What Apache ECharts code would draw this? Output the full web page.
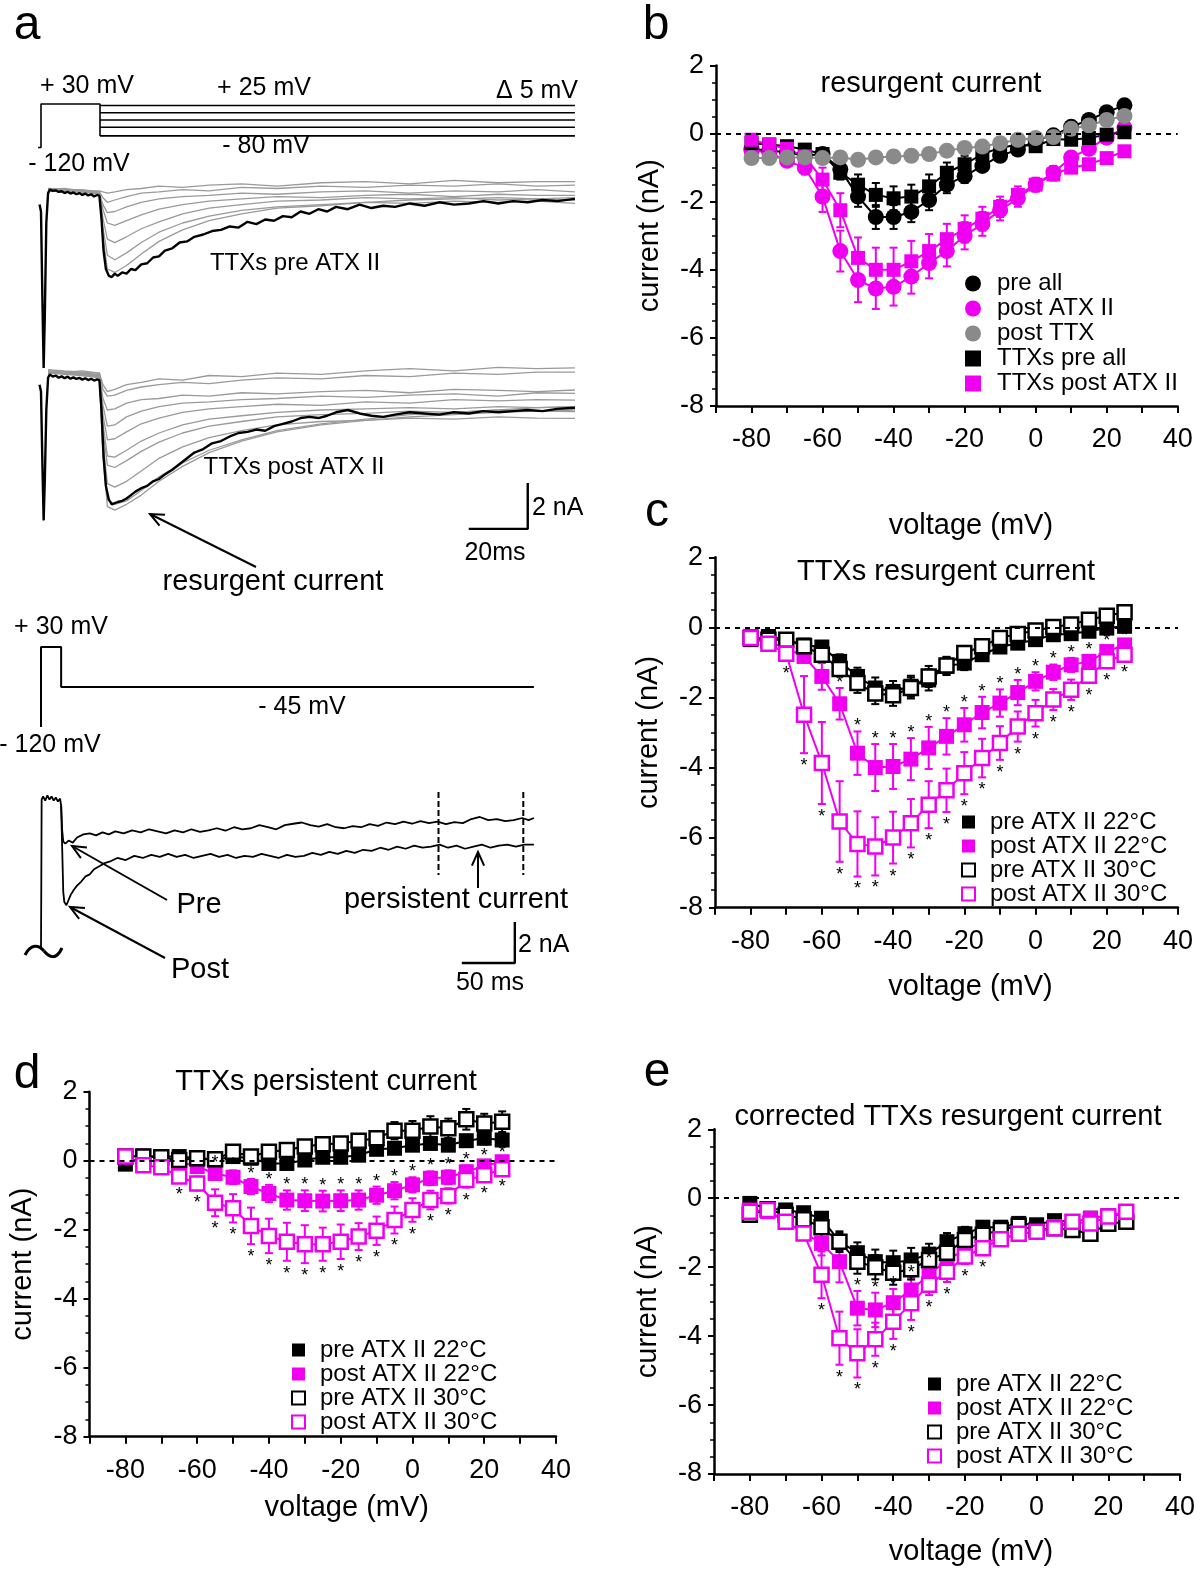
<!DOCTYPE html>
<html>
<head>
<meta charset="utf-8">
<title>TTXs resurgent and persistent current</title>
<script src="https://cdn.jsdelivr.net/npm/echarts@6.0.0/dist/echarts.min.js"></script>
<style>
html, body { margin: 0; padding: 0; background: #fff; }
#fig { width: 1200px; height: 1571px; }
</style>
</head>
<body>
<div id="fig"></div>
<script>
// ---- data ----
// test potentials of the I-V curves (mV)
var voltages = [-80, -75, -70, -65, -60, -55, -50, -45, -40, -35, -30, -25, -20, -15, -10, -5, 0, 5, 10, 15, 20, 25];
var xTickLabels = [-80, -60, -40, -20, 0, 20, 40];

// b: resurgent current (nA), mean and error
var bPreAll      = [-0.45, -0.5, -0.55, -0.65, -0.6, -1.05, -1.85, -2.45, -2.45, -2.3, -1.95, -1.5, -1.25, -0.95, -0.65, -0.47, -0.2, -0.05, 0.2, 0.4, 0.63, 0.83];
var bPreAllErr   = [0.1, 0.1, 0.1, 0.1, 0.1, 0.2, 0.3, 0.35, 0.35, 0.3, 0.3, 0.25, 0.2, 0.15, 0.12, 0.1, 0.1, 0.1, 0.1, 0.12, 0.12, 0.12];
var bPostAtx     = [-0.5, -0.55, -0.8, -1.0, -1.85, -3.45, -4.3, -4.55, -4.5, -4.2, -3.8, -3.45, -3.0, -2.65, -2.25, -1.9, -1.5, -1.15, -0.7, -0.45, -0.12, 0.17];
var bPostAtxErr  = [0.1, 0.1, 0.15, 0.2, 0.45, 0.6, 0.65, 0.6, 0.55, 0.5, 0.45, 0.45, 0.4, 0.35, 0.3, 0.25, 0.2, 0.2, 0.15, 0.15, 0.12, 0.1];
var bPostTtx     = [-0.72, -0.72, -0.7, -0.7, -0.72, -0.7, -0.77, -0.7, -0.67, -0.65, -0.6, -0.5, -0.42, -0.38, -0.28, -0.18, -0.13, -0.1, 0.14, 0.24, 0.4, 0.52];
var bTtxPre      = [-0.28, -0.32, -0.37, -0.47, -0.6, -1.15, -1.5, -1.8, -1.9, -1.85, -1.55, -1.15, -0.9, -0.6, -0.42, -0.32, -0.37, -0.16, -0.18, -0.13, -0.03, 0.04];
var bTtxPreErr   = [0.08, 0.08, 0.08, 0.1, 0.1, 0.2, 0.3, 0.35, 0.35, 0.35, 0.35, 0.3, 0.25, 0.2, 0.15, 0.12, 0.1, 0.1, 0.1, 0.1, 0.1, 0.1];
var bTtxPost     = [-0.18, -0.32, -0.45, -0.67, -1.35, -2.25, -3.65, -4.0, -4.0, -3.75, -3.45, -3.1, -2.8, -2.5, -2.15, -1.8, -1.5, -1.2, -1.0, -0.9, -0.72, -0.52];
var bTtxPostErr  = [0.1, 0.1, 0.12, 0.15, 0.35, 0.5, 0.6, 0.65, 0.65, 0.6, 0.5, 0.45, 0.4, 0.35, 0.3, 0.25, 0.2, 0.18, 0.15, 0.12, 0.1, 0.1];

// c: TTXs resurgent current
var cPre22     = [-0.35, -0.26, -0.35, -0.5, -0.56, -0.97, -1.4, -1.73, -1.83, -1.68, -1.5, -1.11, -1.02, -0.78, -0.56, -0.45, -0.35, -0.21, -0.18, -0.11, -0.02, 0.03];
var cPre22Err  = [0.1, 0.1, 0.1, 0.12, 0.15, 0.2, 0.25, 0.3, 0.3, 0.3, 0.3, 0.25, 0.2, 0.15, 0.12, 0.12, 0.1, 0.1, 0.1, 0.1, 0.12, 0.12];
var cPost22    = [-0.26, -0.4, -0.6, -0.83, -1.4, -2.18, -3.59, -4.0, -3.97, -3.76, -3.44, -3.11, -2.78, -2.43, -2.16, -1.86, -1.54, -1.28, -1.07, -0.97, -0.69, -0.5];
var cPost22Err = [0.08, 0.1, 0.12, 0.15, 0.38, 0.45, 0.62, 0.67, 0.64, 0.6, 0.6, 0.52, 0.48, 0.45, 0.39, 0.36, 0.26, 0.22, 0.2, 0.18, 0.15, 0.12];
var cPre30     = [-0.3, -0.35, -0.35, -0.54, -0.78, -1.19, -1.59, -1.89, -1.94, -1.73, -1.4, -1.09, -0.73, -0.54, -0.3, -0.19, -0.09, 0.01, 0.08, 0.22, 0.33, 0.43];
var cPre30Err  = [0.1, 0.1, 0.1, 0.12, 0.15, 0.2, 0.28, 0.3, 0.3, 0.3, 0.3, 0.25, 0.2, 0.15, 0.12, 0.12, 0.12, 0.12, 0.12, 0.15, 0.15, 0.2];
var cPost30    = [-0.3, -0.47, -0.75, -2.49, -3.87, -5.54, -6.18, -6.25, -6.0, -5.59, -5.06, -4.65, -4.16, -3.73, -3.3, -2.83, -2.45, -2.06, -1.78, -1.38, -0.97, -0.78];
var cPost30Err = [0.1, 0.12, 0.2, 1.1, 1.17, 1.15, 0.93, 0.83, 0.74, 0.69, 0.67, 0.62, 0.6, 0.55, 0.48, 0.43, 0.38, 0.3, 0.29, 0.2, 0.18, 0.15];
var cSigPost22 = [-55, -50, -45, -40, -35, -30, -25, -20, -15, -10, -5, 0, 5, 10, 15, 20, 25];
var cSigPost30 = [-70, -65, -60, -55, -50, -45, -40, -35, -30, -25, -20, -15, -10, -5, 0, 5, 10, 15, 20, 25];

// d: TTXs persistent current
var dPre22     = [-0.1, 0.12, 0.12, 0.12, 0.07, 0.02, 0.12, 0.07, -0.08, -0.08, 0.02, 0.1, 0.1, 0.16, 0.33, 0.36, 0.45, 0.5, 0.45, 0.58, 0.65, 0.6];
var dPre22Err  = [0.08, 0.08, 0.08, 0.08, 0.08, 0.08, 0.1, 0.1, 0.1, 0.1, 0.1, 0.1, 0.1, 0.12, 0.12, 0.15, 0.15, 0.15, 0.15, 0.15, 0.18, 0.18];
var dPost22    = [0.12, 0.14, 0.12, -0.03, -0.17, -0.37, -0.48, -0.75, -0.95, -1.14, -1.16, -1.17, -1.16, -1.14, -1.0, -0.87, -0.7, -0.51, -0.48, -0.32, -0.15, -0.03];
var dPost22Err = [0.08, 0.08, 0.1, 0.1, 0.12, 0.15, 0.2, 0.22, 0.25, 0.28, 0.3, 0.3, 0.3, 0.28, 0.25, 0.25, 0.22, 0.2, 0.2, 0.18, 0.15, 0.12];
var dPre30     = [0.12, 0.12, 0.1, 0.02, 0.07, 0.04, 0.26, 0.12, 0.26, 0.31, 0.41, 0.48, 0.5, 0.58, 0.65, 0.87, 0.87, 0.99, 0.94, 1.2, 1.08, 1.13];
var dPre30Err  = [0.08, 0.08, 0.08, 0.1, 0.1, 0.1, 0.12, 0.12, 0.14, 0.15, 0.15, 0.15, 0.15, 0.15, 0.2, 0.25, 0.28, 0.3, 0.28, 0.3, 0.28, 0.3];
var dPost30    = [0.12, -0.13, -0.19, -0.46, -0.66, -1.22, -1.38, -1.89, -2.18, -2.35, -2.42, -2.42, -2.35, -2.2, -2.03, -1.72, -1.43, -1.14, -1.02, -0.56, -0.42, -0.25];
var dPost30Err = [0.08, 0.1, 0.1, 0.15, 0.2, 0.39, 0.41, 0.53, 0.5, 0.55, 0.55, 0.48, 0.5, 0.39, 0.41, 0.39, 0.34, 0.27, 0.22, 0.22, 0.18, 0.15];
var dSigPost22 = [-55, -50, -45, -40, -35, -30, -25, -20, -15, -10, -5, 0, 5, 10, 15, 20, 25];
var dSigPost30 = [-65, -60, -55, -50, -45, -40, -35, -30, -25, -20, -15, -10, -5, 0, 5, 10, 15, 20, 25];

// e: corrected TTXs resurgent current
var ePre22     = [-0.15, -0.3, -0.34, -0.42, -0.58, -1.26, -1.58, -1.84, -1.87, -1.79, -1.62, -1.26, -1.03, -0.84, -0.84, -0.73, -0.77, -0.65, -0.68, -0.58, -0.51, -0.45];
var ePre22Err  = [0.08, 0.1, 0.1, 0.12, 0.15, 0.25, 0.3, 0.35, 0.35, 0.35, 0.3, 0.25, 0.2, 0.18, 0.15, 0.12, 0.12, 0.12, 0.12, 0.1, 0.1, 0.1];
var ePost22    = [-0.34, -0.39, -0.68, -1.0, -1.31, -1.84, -3.19, -3.24, -3.03, -2.66, -2.22, -1.79, -1.5, -1.26, -1.19, -1.03, -0.97, -0.82, -0.68, -0.58, -0.51, -0.39];
var ePost22Err = [0.08, 0.1, 0.12, 0.15, 0.35, 0.6, 0.5, 0.5, 0.4, 0.35, 0.3, 0.28, 0.22, 0.2, 0.15, 0.12, 0.12, 0.12, 0.12, 0.1, 0.1, 0.1];
var ePre30     = [-0.48, -0.32, -0.48, -0.61, -0.84, -1.26, -1.84, -2.0, -2.16, -2.06, -1.79, -1.58, -1.21, -1.06, -0.92, -0.8, -0.92, -0.87, -0.92, -1.03, -0.74, -0.68];
var ePre30Err  = [0.1, 0.1, 0.1, 0.12, 0.15, 0.3, 0.35, 0.35, 0.35, 0.3, 0.28, 0.25, 0.2, 0.18, 0.15, 0.12, 0.12, 0.12, 0.12, 0.15, 0.12, 0.12];
var ePost30    = [-0.39, -0.34, -0.68, -1.02, -2.22, -4.06, -4.5, -4.09, -3.58, -3.05, -2.51, -2.13, -1.69, -1.45, -1.19, -1.03, -0.97, -0.87, -0.68, -0.73, -0.53, -0.39];
var ePost30Err = [0.08, 0.1, 0.12, 0.18, 0.68, 0.77, 0.7, 0.48, 0.5, 0.48, 0.3, 0.3, 0.22, 0.2, 0.15, 0.12, 0.12, 0.12, 0.1, 0.1, 0.1, 0.1];
var eSigPost22 = [-50, -45, -40, -35, -30, -25];
var eSigPost30 = [-60, -55, -50, -45, -40, -35, -30, -25, -20, -15];

// a: voltage protocols (ms, mV)
var protoStep = [[-1, -120], [0, -120], [0, 30], [20, 30], [20, -80]];
var protoLevels = [25, 0, -25, -50, -80];
var protoPersist = [[0, -120], [0, 30], [19, 30], [19, -45], [465, -45]];

// a: current traces (ms, nA)
var tGray = [2.4, 8, 14, 19.8, 21, 22.5, 25, 29, 34, 40, 48, 57, 68, 80, 95, 110, 125, 140, 155, 168, 181];
var grayPre = [
  [0.45, 0.5, 0.4, 0.4, 0.35, 0.3, 0.35, 0.45, 0.5, 0.6, 0.55, 0.65, 0.7, 0.6, 0.75, 0.8, 0.7, 0.85, 0.75, 0.8, 0.8],
  [0.5, 0.45, 0.45, 0.35, 0.1, -0.1, 0.0, 0.15, 0.3, 0.35, 0.45, 0.4, 0.55, 0.5, 0.6, 0.55, 0.65, 0.6, 0.7, 0.6, 0.65],
  [0.4, 0.45, 0.35, 0.3, -0.2, -0.55, -0.5, -0.3, -0.1, 0.05, 0.15, 0.2, 0.3, 0.25, 0.35, 0.4, 0.3, 0.4, 0.35, 0.45, 0.35],
  [0.45, 0.4, 0.4, 0.3, -0.4, -1.0, -1.1, -0.9, -0.65, -0.4, -0.2, -0.05, 0.05, 0.15, 0.1, 0.2, 0.25, 0.15, 0.25, 0.2, 0.2],
  [0.5, 0.45, 0.4, 0.35, -0.8, -1.7, -1.85, -1.6, -1.25, -0.95, -0.6, -0.35, -0.2, -0.05, 0.0, 0.1, 0.05, 0.1, 0.0, 0.05, 0.0],
  [0.4, 0.35, 0.35, 0.25, -1.2, -2.4, -2.6, -2.3, -1.85, -1.4, -1.0, -0.7, -0.45, -0.3, -0.2, -0.1, -0.15, -0.05, -0.1, -0.05, -0.15],
  [0.45, 0.4, 0.35, 0.3, -1.6, -3.0, -3.15, -2.85, -2.35, -1.8, -1.3, -0.9, -0.6, -0.35, -0.25, -0.1, 0.0, 0.05, 0.1, 0.05, 0.1]
];
var grayPost = [
  [1.7, 1.65, 1.7, 1.6, 1.1, 0.8, 0.9, 1.1, 1.2, 1.35, 1.3, 1.5, 1.45, 1.6, 1.55, 1.7, 1.8, 1.7, 1.85, 1.8, 1.83],
  [1.75, 1.7, 1.65, 1.6, 0.9, 0.6, 0.65, 0.85, 1.0, 1.1, 1.2, 1.15, 1.3, 1.4, 1.35, 1.5, 1.45, 1.6, 1.55, 1.65, 1.65],
  [1.6, 1.65, 1.6, 1.55, 0.5, 0.0, 0.05, 0.3, 0.45, 0.5, 0.65, 0.6, 0.75, 0.7, 0.8, 0.85, 0.75, 0.9, 0.85, 0.8, 0.87],
  [1.7, 1.6, 1.55, 1.5, 0.2, -0.7, -0.65, -0.3, -0.05, 0.15, 0.3, 0.35, 0.45, 0.5, 0.6, 0.55, 0.65, 0.7, 0.6, 0.75, 0.72],
  [1.65, 1.6, 1.6, 1.5, -0.2, -1.3, -1.25, -0.95, -0.6, -0.35, -0.1, 0.05, 0.15, 0.25, 0.2, 0.35, 0.3, 0.45, 0.4, 0.45, 0.43],
  [1.6, 1.65, 1.55, 1.45, -0.6, -2.0, -2.05, -1.75, -1.35, -1.0, -0.65, -0.4, -0.25, -0.1, 0.0, 0.05, 0.1, 0.05, 0.15, 0.1, 0.13],
  [1.7, 1.6, 1.6, 1.5, -0.9, -2.4, -2.5, -2.2, -1.8, -1.4, -1.0, -0.7, -0.5, -0.3, -0.2, -0.15, -0.05, -0.1, 0.0, -0.05, -0.07],
  [1.65, 1.6, 1.55, 1.45, -1.4, -3.2, -3.35, -3.1, -2.65, -2.1, -1.6, -1.2, -0.9, -0.65, -0.5, -0.45, -0.35, -0.4, -0.3, -0.35, -0.36],
  [1.6, 1.55, 1.5, 1.4, -1.8, -3.9, -4.1, -3.95, -3.5, -2.9, -2.3, -1.75, -1.3, -0.9, -0.6, -0.4, -0.2, -0.1, 0.0, 0.1, 0.15],
  [1.65, 1.6, 1.5, 1.45, -2.0, -4.2, -4.35, -4.1, -3.7, -3.1, -2.45, -1.85, -1.35, -0.95, -0.65, -0.45, -0.3, -0.2, -0.1, -0.05, 0.0]
];
var blackPre = [[-0.5, -0.2], [0, -0.5], [0.5, -4.5], [0.9, -7.3], [1.3, -5.0], [1.8, -1.0], [2.4, 0.3], [3, 0.45], [4, 0.4], [5, 0.42], [6, 0.35], [7, 0.38], [8, 0.3], [9, 0.36], [10, 0.28], [11, 0.33], [12, 0.25], [13, 0.3], [14, 0.22], [15, 0.28], [16, 0.2], [17, 0.25], [18, 0.15], [19, 0.22], [19.8, 0.18], [20.5, -0.8], [21.2, -2.2], [22, -3.0], [23, -3.3], [24, -3.35], [25, -3.2], [26, -3.3], [27.5, -3.15], [29, -3.2], [30.5, -3.0], [32, -3.05], [34, -2.8], [36, -2.75], [38, -2.5], [40, -2.45], [42, -2.2], [44.5, -2.1], [47, -1.85], [49.5, -1.8], [52, -1.6], [55, -1.5], [58, -1.35], [61, -1.3], [64, -1.15], [67, -1.2], [70, -0.95], [73, -1.05], [76, -0.85], [79, -0.9], [82, -0.7], [85, -0.75], [88, -0.5], [91, -0.6], [94, -0.4], [97, -0.5], [100, -0.3], [104, -0.4], [108, -0.2], [112, -0.35], [116, -0.25], [120, -0.3], [125, -0.15], [130, -0.25], [135, -0.1], [140, -0.2], [145, -0.15], [150, -0.05], [155, -0.15], [160, -0.05], [165, -0.1], [170, 0.0], [175, -0.05], [181, 0.05]];
var blackPost = [[-0.5, 1.1], [0, 0.8], [0.5, -2.5], [0.9, -4.8], [1.3, -3.0], [1.8, 0.0], [2.4, 1.4], [3, 1.55], [4, 1.45], [5, 1.5], [6, 1.4], [7, 1.47], [8, 1.38], [9, 1.45], [10, 1.36], [11, 1.42], [12, 1.35], [13, 1.4], [14, 1.32], [15, 1.38], [16, 1.3], [17, 1.36], [18, 1.28], [19, 1.33], [19.8, 1.3], [20.5, 0.0], [21.2, -2.0], [22, -3.3], [23, -3.9], [24, -4.1], [25, -4.05], [26, -4.0], [27.5, -3.95], [29, -3.85], [30.5, -3.7], [32, -3.55], [34, -3.4], [36, -3.3], [38, -3.1], [40, -3.0], [42, -2.8], [44.5, -2.6], [47, -2.35], [49.5, -2.1], [52, -1.85], [55, -1.7], [58, -1.45], [61, -1.35], [64, -1.15], [67, -1.0], [70, -0.95], [73, -0.85], [76, -0.9], [79, -0.7], [82, -0.6], [85, -0.5], [88, -0.35], [91, -0.3], [94, -0.35], [97, -0.25], [100, -0.1], [104, 0.0], [108, -0.15], [112, -0.25], [116, -0.3], [120, -0.2], [125, -0.1], [130, -0.15], [135, -0.2], [140, -0.1], [145, -0.15], [150, -0.05], [155, -0.1], [160, -0.05], [165, 0.0], [170, -0.05], [175, 0.05], [181, 0.1]];
var persistPre = [[0, -6.4], [0.3, -3], [0.6, 0.9], [2, 1.05], [4, 0.85], [6, 1.1], [8, 0.9], [10, 1.05], [12, 0.85], [14, 1.0], [16, 0.8], [18, 0.95], [19, 0.6], [20, -0.6], [21, -1.15], [23, -1.25], [26, -1.1], [30, -1.2], [34, -0.95], [40, -0.8], [46, -0.75], [52, -0.85], [58, -0.7], [64, -0.8], [70, -0.65], [78, -0.75], [86, -0.6], [94, -0.7], [102, -0.55], [110, -0.65], [118, -0.75], [126, -0.6], [134, -0.7], [142, -0.55], [150, -0.68], [158, -0.6], [166, -0.5], [174, -0.62], [182, -0.45], [190, -0.55], [198, -0.5], [206, -0.35], [214, -0.45], [222, -0.55], [230, -0.35], [238, -0.28], [246, -0.22], [254, -0.35], [262, -0.42], [270, -0.3], [278, -0.45], [286, -0.5], [294, -0.4], [302, -0.45], [310, -0.3], [318, -0.38], [326, -0.22], [334, -0.3], [342, -0.18], [350, -0.28], [358, -0.15], [366, -0.25], [374, -0.18], [382, -0.3], [390, -0.2], [398, -0.25], [406, -0.05], [414, 0.05], [422, -0.1], [430, -0.05], [438, -0.15], [446, -0.1], [454, 0.0], [460, -0.1], [465, 0.0]];
var persistPost = [[19, 0.6], [20, -1.5], [21, -3.6], [22, -4.1], [24, -4.25], [26, -4.0], [28, -3.75], [31, -3.5], [34, -3.3], [38, -3.1], [42, -2.85], [46, -2.75], [50, -2.5], [55, -2.35], [60, -2.2], [66, -2.1], [72, -1.95], [80, -2.05], [88, -1.85], [96, -1.95], [104, -1.8], [112, -1.9], [120, -1.75], [128, -1.9], [136, -1.8], [144, -1.95], [152, -1.85], [160, -1.75], [168, -1.9], [176, -1.8], [184, -1.95], [192, -1.85], [200, -1.9], [208, -1.75], [216, -1.85], [224, -1.95], [232, -1.8], [240, -1.9], [248, -1.85], [256, -1.7], [264, -1.8], [272, -1.65], [280, -1.75], [288, -1.6], [296, -1.7], [304, -1.55], [312, -1.6], [320, -1.45], [328, -1.55], [336, -1.4], [344, -1.5], [352, -1.35], [360, -1.45], [368, -1.4], [376, -1.3], [384, -1.45], [392, -1.35], [400, -1.5], [408, -1.4], [416, -1.3], [424, -1.45], [432, -1.35], [440, -1.3], [448, -1.4], [456, -1.3], [465, -1.3]];
// averaging window of the persistent current (ms) and scale bars (ms, nA)
var persistWindow = [375, 455];
var scaleBarTrace = [[145, -5.17], [165, -5.17], [165, -3.17]];
var scaleBarPersist = [[397, -7.07], [447, -7.07], [447, -5.07]];

// ---- styling ----
var FONT = 'Liberation Sans, Arial, Helvetica, sans-serif';
var MAG = '#f000f0';
var GREY = '#8a8a8a';

var chart = echarts.init(document.getElementById('fig'), null, { renderer: 'canvas' });

function ivX(g, gap) {
	return {
		gridIndex: g, type: 'value', min: -90, max: 40, interval: 10,
		axisLine: { show: true, onZero: false, lineStyle: { color: '#000', width: 2.5 } },
		axisTick: { show: true, length: 7, lineStyle: { color: '#000', width: 2 } },
		splitLine: { show: false },
		axisLabel: {
			color: '#000', fontSize: 27, fontFamily: FONT, margin: 20,
			formatter: function (v) { return xTickLabels.indexOf(v) >= 0 ? String(v) : ''; }
		},
		name: 'voltage (mV)', nameLocation: 'middle', nameGap: gap,
		nameTextStyle: { color: '#000', fontSize: 29, fontFamily: FONT, padding: [0, 0, 0, 48] }
	};
}
function ivY(g) {
	return {
		gridIndex: g, type: 'value', min: -8, max: 2, interval: 2,
		axisLine: { show: true, onZero: false, lineStyle: { color: '#000', width: 2.5 } },
		axisTick: { show: true, length: 6, lineStyle: { color: '#000', width: 2 } },
		minorTick: { show: true, splitNumber: 4, length: 4, lineStyle: { color: '#000', width: 1.5 } },
		splitLine: { show: false },
		axisLabel: { color: '#000', fontSize: 27, fontFamily: FONT, margin: 12 },
		name: 'current (nA)', nameLocation: 'middle', nameGap: 52, nameRotate: 90,
		nameTextStyle: { color: '#000', fontSize: 29, fontFamily: FONT }
	};
}
function hidden(g, min, max) {
	return { gridIndex: g, type: 'value', min: min, max: max, show: false, splitLine: { show: false } };
}

function ivLine(name, g, vals, color, symbol, size, open) {
	return {
		name: name, type: 'line', xAxisIndex: g, yAxisIndex: g, z: 3, silent: true,
		data: voltages.map(function (v, i) { return [v, vals[i]]; }),
		symbol: symbol, symbolSize: size, showSymbol: true,
		itemStyle: open ? { color: '#fff', borderColor: color, borderWidth: 2.5 } : { color: color, borderWidth: 0 },
		lineStyle: { color: color, width: 2 }
	};
}
function zeroLine(s) {
	s.markLine = {
		silent: true, symbol: 'none', label: { show: false },
		lineStyle: { type: [5, 5], color: '#000', width: 2 },
		data: [{ yAxis: 0 }]
	};
	return s;
}
function errorBars(g, vals, errs, color) {
	return {
		type: 'custom', xAxisIndex: g, yAxisIndex: g, z: 2, silent: true,
		data: voltages.map(function (v, i) { return [v, vals[i], errs[i]]; }),
		encode: { x: 0, y: 1 },
		renderItem: function (params, api) {
			var x = api.value(0), y = api.value(1), e = api.value(2);
			var hi = api.coord([x, y + e]), lo = api.coord([x, y - e]);
			var st = { stroke: color, lineWidth: 2 };
			return { type: 'group', children: [
				{ type: 'line', shape: { x1: hi[0], y1: hi[1], x2: lo[0], y2: lo[1] }, style: st },
				{ type: 'line', shape: { x1: hi[0] - 4, y1: hi[1], x2: hi[0] + 4, y2: hi[1] }, style: st },
				{ type: 'line', shape: { x1: lo[0] - 4, y1: lo[1], x2: lo[0] + 4, y2: lo[1] }, style: st }
			] };
		}
	};
}
// asterisks above (dir 1) or below (dir -1) the error bar
function stars(g, vals, errs, sig, dir) {
	var d = [];
	voltages.forEach(function (v, i) { if (sig.indexOf(v) >= 0) d.push([v, vals[i], errs[i]]); });
	return {
		type: 'custom', xAxisIndex: g, yAxisIndex: g, z: 4, silent: true,
		data: d, encode: { x: 0, y: 1 },
		renderItem: function (params, api) {
			var p = api.coord([api.value(0), api.value(1) + dir * api.value(2)]);
			return { type: 'text', x: p[0], y: p[1] - dir * 9 + 4,
				style: { text: '*', textAlign: 'center', textVerticalAlign: 'middle', fontSize: 18, fontFamily: FONT, fill: '#000' } };
		}
	};
}
function trace(g, data, color, width) {
	return { type: 'line', xAxisIndex: g, yAxisIndex: g, data: data, showSymbol: false, symbol: 'none', silent: true,
		lineStyle: { color: color, width: width }, z: width > 2 ? 3 : 2 };
}

var series = [];
// b
series.push(zeroLine(ivLine('pre all', 0, bPreAll, '#000', 'circle', 16)));
series.push(errorBars(0, bPreAll, bPreAllErr, '#000'));
series.push(ivLine('post ATX II', 0, bPostAtx, MAG, 'circle', 16));
series.push(errorBars(0, bPostAtx, bPostAtxErr, MAG));
series.push(ivLine('TTXs pre all', 0, bTtxPre, '#000', 'rect', 14));
series.push(errorBars(0, bTtxPre, bTtxPreErr, '#000'));
series.push(ivLine('TTXs post ATX II', 0, bTtxPost, MAG, 'rect', 14));
series.push(errorBars(0, bTtxPost, bTtxPostErr, MAG));
series.push(ivLine('post TTX', 0, bPostTtx, GREY, 'circle', 16));

// c, d, e share the same four groups
function fourGroups(g, pre22, pre22e, post22, post22e, pre30, pre30e, post30, post30e, sig22, sig30) {
	series.push(zeroLine(ivLine('pre ATX II 22°C', g, pre22, '#000', 'rect', 15)));
	series.push(errorBars(g, pre22, pre22e, '#000'));
	series.push(ivLine('post ATX II 22°C', g, post22, MAG, 'rect', 15));
	series.push(errorBars(g, post22, post22e, MAG));
	series.push(ivLine('pre ATX II 30°C', g, pre30, '#000', 'rect', 14, true));
	series.push(errorBars(g, pre30, pre30e, '#000'));
	series.push(ivLine('post ATX II 30°C', g, post30, MAG, 'rect', 14, true));
	series.push(errorBars(g, post30, post30e, MAG));
	series.push(stars(g, post22, post22e, sig22, 1));
	series.push(stars(g, post30, post30e, sig30, -1));
}
fourGroups(1, cPre22, cPre22Err, cPost22, cPost22Err, cPre30, cPre30Err, cPost30, cPost30Err, cSigPost22, cSigPost30);
fourGroups(2, dPre22, dPre22Err, dPost22, dPost22Err, dPre30, dPre30Err, dPost30, dPost30Err, dSigPost22, dSigPost30);
fourGroups(3, ePre22, ePre22Err, ePost22, ePost22Err, ePre30, ePre30Err, ePost30, ePost30Err, eSigPost22, eSigPost30);

// a: protocols
var famData = [];
protoLevels.forEach(function (lv) { famData.push([20, lv], [181, lv], [null, null]); });
series.push(trace(4, protoStep, '#000', 1.6));
series.push(Object.assign(trace(4, famData, '#000', 1.6), { connectNulls: false }));
series.push(trace(7, protoPersist, '#000', 2));
// a: resurgent traces
grayPre.forEach(function (vals) { series.push(trace(5, tGray.map(function (t, i) { return [t, vals[i]]; }), '#9a9a9a', 1.3)); });
series.push(trace(5, blackPre, '#000', 2.4));
grayPost.forEach(function (vals) { series.push(trace(6, tGray.map(function (t, i) { return [t, vals[i]]; }), '#9a9a9a', 1.3)); });
series.push(trace(6, blackPost, '#000', 2.4));
series.push(trace(6, scaleBarTrace, '#000', 2.4));
// a: persistent traces
series.push(trace(8, persistPre, '#000', 1.8));
series.push(trace(8, persistPost, '#000', 1.8));
persistWindow.forEach(function (t) {
	var s = trace(8, [[t, 1.27], [t, -2.78]], '#000', 2);
	s.lineStyle.type = [6, 3];
	series.push(s);
});
series.push(trace(8, scaleBarPersist, '#000', 2.4));

// legends
function legendItems(names, icons, styles) {
	return names.map(function (n, i) { return { name: n, icon: icons[i], itemStyle: styles[i] }; });
}
var fourNames = ['pre ATX II 22°C', 'post ATX II 22°C', 'pre ATX II 30°C', 'post ATX II 30°C'];
var fourStyles = [{ color: '#000' }, { color: MAG }, { color: '#fff', borderColor: '#000', borderWidth: 2 }, { color: '#fff', borderColor: MAG, borderWidth: 2 }];
function fourLegend(left, top) {
	return {
		orient: 'vertical', left: left, top: top, itemWidth: 13, itemHeight: 13, itemGap: 0, selectedMode: false,
		textStyle: { color: '#000', fontSize: 24, fontFamily: FONT, lineHeight: 24, padding: [0, 0, 0, 10] },
		data: legendItems(fourNames, ['rect', 'rect', 'rect', 'rect'], fourStyles)
	};
}

var legends = [
	{
		orient: 'vertical', left: 960, top: 266, itemWidth: 16, itemHeight: 16, itemGap: 0, selectedMode: false,
		textStyle: { color: '#000', fontSize: 24, fontFamily: FONT, lineHeight: 25, padding: [0, 0, 0, 11] },
		data: legendItems(['pre all', 'post ATX II', 'post TTX', 'TTXs pre all', 'TTXs post ATX II'],
			['circle', 'circle', 'circle', 'rect', 'rect'],
			[{ color: '#000' }, { color: MAG }, { color: GREY }, { color: '#000' }, { color: MAG }])
	},
	fourLegend(956, 805),
	fourLegend(286, 1333),
	fourLegend(922, 1367)
];

// free text and annotation arrows
function txt(x, y, s, size, align) {
	return { type: 'text', x: x, y: y, silent: true,
		style: { text: s, fontSize: size, fontFamily: FONT, fill: '#000', textAlign: align || 'center', textVerticalAlign: 'middle' } };
}
function arrow(x1, y1, x2, y2) {
	var a = Math.atan2(y2 - y1, x2 - x1), L = 15, w = 0.42;
	var p1 = [x2 - L * Math.cos(a - w), y2 - L * Math.sin(a - w)];
	var p2 = [x2 - L * Math.cos(a + w), y2 - L * Math.sin(a + w)];
	return [
		{ type: 'line', silent: true, shape: { x1: x1, y1: y1, x2: x2, y2: y2 }, style: { stroke: '#000', lineWidth: 2 } },
		{ type: 'polyline', silent: true, shape: { points: [p1, [x2, y2], p2] }, style: { stroke: '#000', lineWidth: 2, fill: null } }
	];
}
// the "~" break mark under the clipped transient
function tildeMark() {
	var st = { stroke: '#000', lineWidth: 3, fill: null };
	return [
		{ type: 'bezierCurve', silent: true, shape: { x1: 25, y1: 955, cpx1: 31, cpy1: 943, cpx2: 39, cpy2: 945, x2: 44, y2: 951 }, style: st },
		{ type: 'bezierCurve', silent: true, shape: { x1: 44, y1: 951, cpx1: 49, cpy1: 957, cpx2: 56, cpy2: 961, x2: 62, y2: 948 }, style: st }
	];
}
var graphics = [
	txt(27, 26, 'a', 48), txt(656, 26, 'b', 48), txt(657, 513, 'c', 48), txt(27, 1075, 'd', 48), txt(657, 1073, 'e', 48),
	txt(931, 84, 'resurgent current', 29),
	txt(946, 572, 'TTXs resurgent current', 29),
	txt(326, 1082, 'TTXs persistent current', 29),
	txt(948, 1117, 'corrected TTXs resurgent current', 29),
	txt(87, 86, '+ 30 mV', 25), txt(264, 88, '+ 25 mV', 25), txt(537, 91, '\u0394 5 mV', 25),
	txt(266, 146, '- 80 mV', 25), txt(79, 164, '- 120 mV', 25),
	txt(295, 263, 'TTXs pre ATX II', 24), txt(294, 467, 'TTXs post ATX II', 24),
	txt(273, 582, 'resurgent current', 29),
	txt(532, 508, '2 nA', 25, 'left'), txt(495, 553, '20ms', 25),
	txt(61, 627, '+ 30 mV', 25), txt(302, 707, '- 45 mV', 25), txt(50, 745, '- 120 mV', 25),
	txt(199, 905, 'Pre', 29), txt(200, 970, 'Post', 29),
	txt(456, 900, 'persistent current', 29),
	txt(518, 945, '2 nA', 25, 'left'), txt(490, 983, '50 ms', 25)
].concat(tildeMark(), arrow(256, 567, 150, 514), arrow(167, 900, 72, 846), arrow(165, 958, 70, 907), arrow(478, 888, 478, 852));

var option = {
	animation: false,
	backgroundColor: '#fff',
	grid: [
		{ left: 716, top: 65.5, width: 461.7, height: 340.5 },
		{ left: 715, top: 557.3, width: 463, height: 350.4 },
		{ left: 89.5, top: 1091.7, width: 466.5, height: 345 },
		{ left: 714, top: 1129.3, width: 466, height: 344.7 },
		{ left: 35.1, top: 102.55, width: 539.85, height: 46.4 },
		{ left: 35.1, top: 172.4, width: 539.85, height: 197.8 },
		{ left: 35.1, top: 364, width: 539.85, height: 167.9 },
		{ left: 35.7, top: 644.33, width: 503.5, height: 85.33 },
		{ left: 35.7, top: 789.3, width: 503.5, height: 180.4 }
	].map(function (g) { g.outerBoundsMode = 'none'; return g; }),
	xAxis: [ivX(0, 105), ivX(1, 65), ivX(2, 57), ivX(3, 63),
		hidden(4, -2, 181), hidden(5, -2, 181), hidden(6, -2, 181), hidden(7, -5, 470), hidden(8, -5, 470)],
	yAxis: [ivY(0), ivY(1), ivY(2), ivY(3),
		hidden(4, -125, 35), hidden(5, -7.4, 1.2), hidden(6, -5.3, 2.0), hidden(7, -125, 35), hidden(8, -7.4, 1.4)],
	legend: legends,
	graphic: { elements: graphics },
	series: series
};
chart.setOption(option);
</script>
</body>
</html>
